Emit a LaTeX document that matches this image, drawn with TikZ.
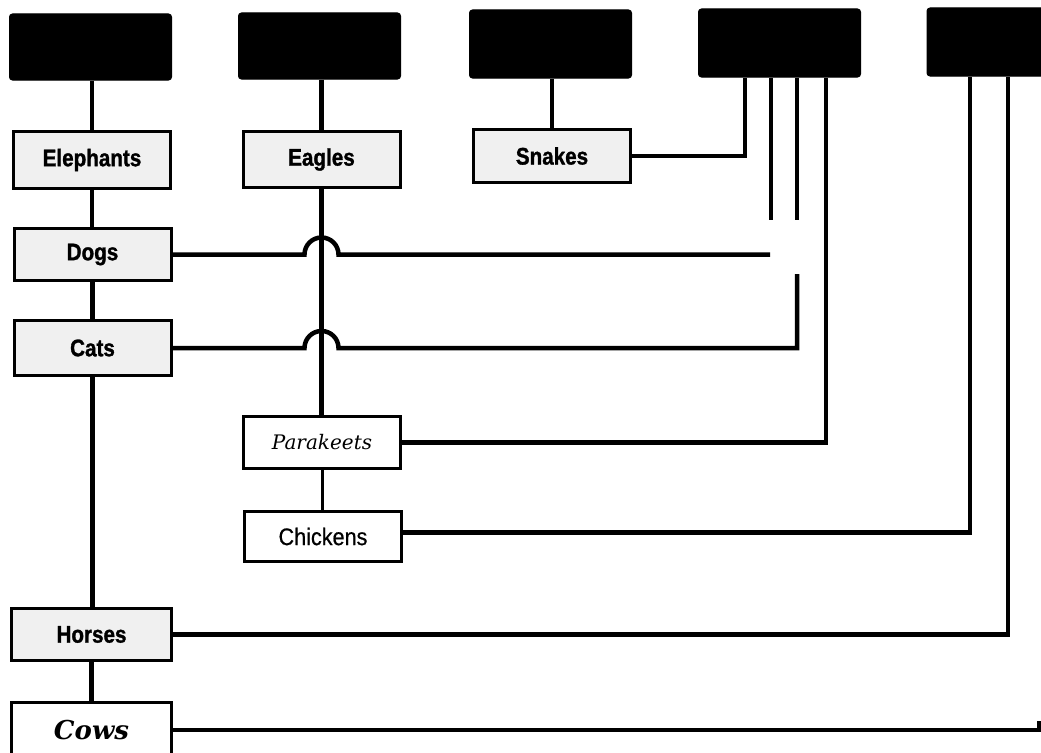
\documentclass[tikz,border=0pt]{standalone}
\usepackage{fontspec}
\newfontfamily\narrowsans[FakeStretch=0.86, BoldFeatures={FakeBold=1.2}]{Liberation Sans}
\newfontfamily\slimsans[FakeStretch=0.9, FakeBold=0.6]{Liberation Sans}
\newfontfamily\wideserif{DejaVu Serif}
\begin{document}
\begin{tikzpicture}[x=1pt,y=-1pt,
  head/.style={fill=black, draw=black, line width=1pt, rounded corners=3pt,
    minimum width=162pt, minimum height=66pt, inner sep=0pt},
  tag/.style={draw=black, line width=3pt, minimum width=157pt,
    minimum height=55pt, inner sep=0pt},
  greytag/.style={tag, fill=black!6, font=\narrowsans\bfseries\fontsize{24}{24}\selectfont},
  whitetag/.style={tag, fill=white},
  link/.style={line width=4.5pt, line cap=butt, line join=miter}]
\useasboundingbox (0,0) rectangle (1041,752);
\clip (0,0) rectangle (1041,752);

% black header blocks
\node[head] (h1) at (90.5,47) {};
\node[head] (h2) at (319.5,46) {};
\node[head, minimum height=68pt] (h3) at (550.5,44) {};
\node[head, minimum height=68pt] (h4) at (779.5,43) {};
\node[head, minimum width=170pt, minimum height=68pt] (h5) at (1012,42) {};

% labelled boxes
\node[greytag, minimum height=57pt] (ele) at (92,160) {Elephants};
\node[greytag, minimum height=56pt] (eag) at (321.5,159.5) {Eagles};
\node[greytag, minimum height=53pt] (snk) at (552,156) {Snakes};
\node[greytag, minimum height=52pt] (dog) at (92.5,254.5) {Dogs};
\node[greytag, minimum height=55pt] (cat) at (92.5,348) {Cats};
\node[whitetag, minimum height=52pt, font=\wideserif\itshape\fontsize{20}{20}\selectfont] (par) at (322,442.5) {Parakeets};
\node[whitetag, minimum height=50pt, font=\slimsans\fontsize{24}{24}\selectfont] (chk) at (323,536.5) {Chickens};
\node[greytag, minimum width=160pt, minimum height=52pt] (hor) at (91.5,634.5) {Horses};
\node[whitetag, minimum width=160pt, minimum height=56pt, font=\wideserif\bfseries\itshape\fontsize{26}{26}\selectfont] (cow) at (91.5,730) {Cows};

% free ends of the unfinished links
\coordinate (d4a) at (771,220);
\coordinate (dend) at (770,254.5);
\coordinate (c4b) at (797,220);
\coordinate (cend) at (797,274);
\coordinate (cowend) at (1039,721);

% left column
\draw[link] (ele.north |- h1.south) -- (ele.north);
\draw[link] (ele.south) -- (ele.south |- dog.north);
\draw[link] (dog.south) -- (dog.south |- cat.north);
\draw[link] (cat.south) -- (cat.south |- hor.north);
\draw[link] (hor.south) -- (hor.south |- cow.north);

% second column
\draw[link] (eag.north |- h2.south) -- (eag.north);
\draw[link] (eag.south) -- (eag.south |- par.north);
\draw[link, line width=3pt] (par.south) -- (par.south |- chk.north);

% third column
\draw[link] (snk.north |- h3.south) -- (snk.north);
\draw[link] (snk.east) -| ([xshift=-34.5pt]h4.south);

% stubs under the fourth header
\draw[link] ([xshift=-8.5pt]h4.south) -- (d4a);
\draw[link] ([xshift=17.5pt]h4.south) -- (c4b);

% crossings with jumps over the Eagles line
\draw[link] (dog.east) -- ([xshift=-17pt]dog.east -| eag.south)
  arc[start angle=180, end angle=360, radius=17] -- (dend);
\draw[link] (cat.east) -- ([xshift=-17pt]cat.east -| eag.south)
  arc[start angle=180, end angle=360, radius=17] -- (cat.east -| cend) -- (cend);

% long links to the fourth and fifth headers
\draw[link] (par.east) -| ([xshift=46.5pt]h4.south);
\draw[link] ([yshift=4pt]chk.east) -| ([xshift=-42pt]h5.south);
\draw[link] (hor.east) -| ([xshift=-4pt]h5.south);
\draw[link] (cow.east) -| (cowend);
\end{tikzpicture}
\end{document}
